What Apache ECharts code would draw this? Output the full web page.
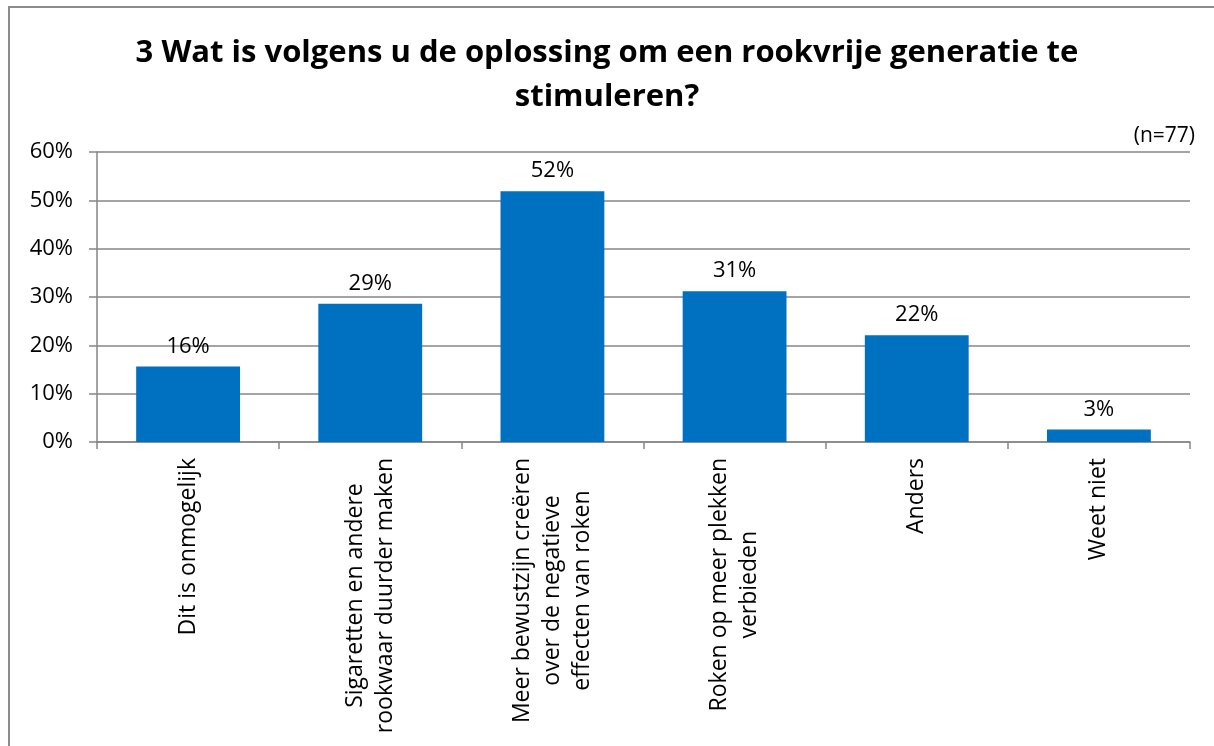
<!DOCTYPE html>
<html>
<head>
<meta charset="utf-8">
<script src="https://cdn.jsdelivr.net/npm/echarts@6/dist/echarts.min.js"></script>
<style>
  html, body { margin: 0; padding: 0; background: #fff; overflow: hidden; }
  #frame { position: absolute; left: 8px; top: 6px; width: 1230px; height: 780px; border: 2px solid #8c8c8c; box-sizing: border-box; }
  #chart { position: absolute; left: 0; top: 0; width: 1214px; height: 746px; }
</style>
</head>
<body>
<div id="frame"></div>
<div id="chart"></div>
<script>
const titleText = '3 Wat is volgens u de oplossing om een rookvrije generatie te\nstimuleren?';
const noteText = '(n=77)';
const categories = [
  'Dit is onmogelijk',
  'Sigaretten en andere\nrookwaar duurder maken',
  'Meer bewustzijn creëren\nover de negatieve\neffecten van roken',
  'Roken op meer plekken\nverbieden',
  'Anders',
  'Weet niet'
];
const values = [15.6, 28.6, 51.9, 31.2, 22.1, 2.6];
const yTicks = { min: 0, max: 60, interval: 10 };

const font = '"Open Sans", "Noto Sans", sans-serif';
const chart = echarts.init(document.getElementById('chart'), null, { renderer: 'canvas' });
chart.setOption({
  animation: false,
  backgroundColor: 'transparent',
  title: [
    {
      text: titleText,
      left: 'center', top: 26,
      textStyle: { fontFamily: font, fontWeight: 'bold', fontSize: 31, lineHeight: 44, color: '#000' }
    },
    {
      text: noteText,
      right: 14, top: 121,
      textStyle: { fontFamily: font, fontWeight: 'normal', fontSize: 21, color: '#000' }
    }
  ],
  grid: { left: 97, right: 24, top: 152, bottom: 304, containLabel: false },
  xAxis: {
    type: 'category',
    data: categories,
    axisLine: { show: true, lineStyle: { color: '#868686', width: 1.5 } },
    axisTick: { show: true, length: 7, lineStyle: { color: '#868686', width: 1.5 } },
    axisLabel: {
      rotate: 90,
      interval: 0,
      margin: 16,
      fontFamily: font,
      fontSize: 23,
      color: '#000',
      formatter: function (v) {
        return v.split('\n').map(function (l) { return '{c|' + l + '}'; }).join('\n');
      },
      rich: { c: { align: 'center', fontFamily: font, fontSize: 23, lineHeight: 30, color: '#000' } }
    }
  },
  yAxis: {
    type: 'value',
    min: yTicks.min, max: yTicks.max, interval: yTicks.interval,
    axisLine: { show: true, lineStyle: { color: '#868686', width: 1.5 } },
    axisTick: { show: true, length: 8, lineStyle: { color: '#868686', width: 1.5 } },
    splitLine: { show: true, lineStyle: { color: '#868686', width: 1.5 } },
    axisLabel: {
      formatter: '{value}%',
      margin: 24,
      fontFamily: font, fontSize: 22, color: '#000'
    }
  },
  series: [{
    type: 'bar',
    data: values,
    barWidth: '57%',
    itemStyle: { color: '#0070C0' },
    label: {
      show: true,
      position: 'top',
      distance: 9,
      fontFamily: font, fontSize: 22, color: '#000',
      formatter: function (p) { return Math.round(p.value) + '%'; }
    }
  }]
});
</script>
</body>
</html>
